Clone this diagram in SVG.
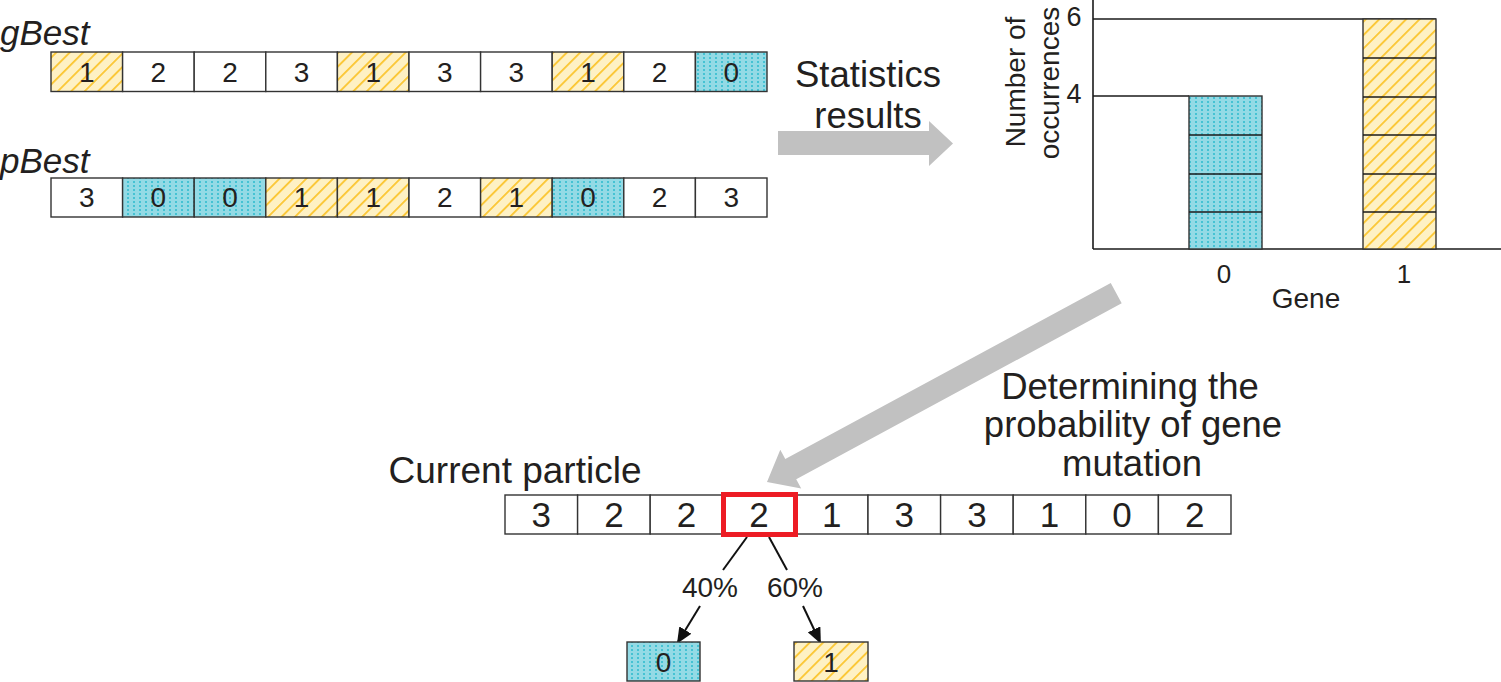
<svg xmlns="http://www.w3.org/2000/svg" width="1501" height="682" viewBox="0 0 1501 682">
<defs>
<style>
text{font-family:"Liberation Sans",Arial,Helvetica,sans-serif;fill:#231f20}
.cell{stroke:#333;stroke-width:1.4}
.w{fill:#fff}
.y{fill:url(#hatch)}
.b{fill:url(#dots)}
.d{font-size:28px;text-anchor:middle}
.dl{font-size:35px;text-anchor:middle}
.big{font-size:36.5px;text-anchor:middle}
.lbl{font-size:35px;font-style:italic}
.ax{stroke:#1a1a1a;stroke-width:1.6;fill:none}
.seg{stroke:#1a1a1a;stroke-width:1.4}
.gray{fill:#c1c1c1}
.ln{stroke:#111;stroke-width:2;fill:none}
</style>
<pattern id="dots" width="6" height="4" patternUnits="userSpaceOnUse">
<rect width="6" height="4" fill="#93dae5"/>
<rect x="1" y="1" width="2" height="2" fill="#45c2d3"/>
</pattern>
<pattern id="hatch" width="9.5" height="9.5" patternUnits="userSpaceOnUse" patternTransform="rotate(45)">
<rect width="9.5" height="9.5" fill="#fef1c4"/>
<rect x="0" y="0" width="1.8" height="9.5" fill="#fbc632"/>
</pattern>
<marker id="ah" viewBox="0 0 16 14" markerUnits="userSpaceOnUse" markerWidth="16" markerHeight="14" refX="14" refY="7" orient="auto">
<path d="M0,0 L16,7 L0,14 z" fill="#111"/>
</marker>
</defs>
<rect width="1501" height="682" fill="#fff"/>

<g id="gBest">
<text class="lbl" x="0" y="45">gBest</text>
<rect class="cell y" x="51" y="52" width="71.6" height="39.5"/>
<rect class="cell w" x="122.6" y="52" width="71.6" height="39.5"/>
<rect class="cell w" x="194.2" y="52" width="71.6" height="39.5"/>
<rect class="cell w" x="265.8" y="52" width="71.6" height="39.5"/>
<rect class="cell y" x="337.4" y="52" width="71.6" height="39.5"/>
<rect class="cell w" x="409" y="52" width="71.6" height="39.5"/>
<rect class="cell w" x="480.6" y="52" width="71.6" height="39.5"/>
<rect class="cell y" x="552.2" y="52" width="71.6" height="39.5"/>
<rect class="cell w" x="623.8" y="52" width="71.6" height="39.5"/>
<rect class="cell b" x="695.4" y="52" width="71.6" height="39.5"/>
<text class="d" x="86.8" y="82">1</text>
<text class="d" x="158.4" y="82">2</text>
<text class="d" x="230" y="82">2</text>
<text class="d" x="301.6" y="82">3</text>
<text class="d" x="373.2" y="82">1</text>
<text class="d" x="444.8" y="82">3</text>
<text class="d" x="516.4" y="82">3</text>
<text class="d" x="588" y="82">1</text>
<text class="d" x="659.6" y="82">2</text>
<text class="d" x="731.2" y="82">0</text>
</g>

<g id="pBest">
<text class="lbl" x="0" y="173">pBest</text>
<rect class="cell w" x="51" y="178" width="71.6" height="39"/>
<rect class="cell b" x="122.6" y="178" width="71.6" height="39"/>
<rect class="cell b" x="194.2" y="178" width="71.6" height="39"/>
<rect class="cell y" x="265.8" y="178" width="71.6" height="39"/>
<rect class="cell y" x="337.4" y="178" width="71.6" height="39"/>
<rect class="cell w" x="409" y="178" width="71.6" height="39"/>
<rect class="cell y" x="480.6" y="178" width="71.6" height="39"/>
<rect class="cell b" x="552.2" y="178" width="71.6" height="39"/>
<rect class="cell w" x="623.8" y="178" width="71.6" height="39"/>
<rect class="cell w" x="695.4" y="178" width="71.6" height="39"/>
<text class="d" x="86.8" y="207">3</text>
<text class="d" x="158.4" y="207">0</text>
<text class="d" x="230" y="207">0</text>
<text class="d" x="301.6" y="207">1</text>
<text class="d" x="373.2" y="207">1</text>
<text class="d" x="444.8" y="207">2</text>
<text class="d" x="516.4" y="207">1</text>
<text class="d" x="588" y="207">0</text>
<text class="d" x="659.6" y="207">2</text>
<text class="d" x="731.2" y="207">3</text>
</g>

<g id="stats-label">
<text class="big" x="868" y="87">Statistics</text>
<text class="big" x="868" y="128">results</text>
</g>

<g id="chart">
<line class="ax" x1="1093" y1="0" x2="1093" y2="249"/>
<line class="ax" x1="1093" y1="249" x2="1501" y2="249"/>
<line class="ax" x1="1093" y1="19" x2="1436" y2="19"/>
<line class="ax" x1="1093" y1="96" x2="1189" y2="96"/>
<rect class="cell b" x="1189" y="96" width="73" height="153"/>
<line class="seg" x1="1189" y1="135" x2="1262" y2="135"/>
<line class="seg" x1="1189" y1="174" x2="1262" y2="174"/>
<line class="seg" x1="1189" y1="212" x2="1262" y2="212"/>
<rect class="cell y" x="1363" y="19" width="73" height="230"/>
<line class="seg" x1="1363" y1="58" x2="1436" y2="58"/>
<line class="seg" x1="1363" y1="97" x2="1436" y2="97"/>
<line class="seg" x1="1363" y1="135" x2="1436" y2="135"/>
<line class="seg" x1="1363" y1="174" x2="1436" y2="174"/>
<line class="seg" x1="1363" y1="212" x2="1436" y2="212"/>
<text x="1074" y="26" style="font-size:27px;text-anchor:middle">6</text>
<text x="1074" y="103" style="font-size:27px;text-anchor:middle">4</text>
<text transform="translate(1025,82) rotate(-90)" style="font-size:28px;text-anchor:middle">Number of</text>
<text transform="translate(1059,83) rotate(-90)" style="font-size:28px;text-anchor:middle">occurrences</text>
<text x="1224" y="283" style="font-size:26px;text-anchor:middle">0</text>
<text x="1404" y="283" style="font-size:26px;text-anchor:middle">1</text>
<text x="1306" y="308" style="font-size:28px;text-anchor:middle">Gene</text>
</g>

<g id="connectors">
<polygon class="gray" points="778,131 929,131 929,121 953,143.5 929,166 929,155 778,155"/>
<polygon class="gray" transform="translate(767,482) rotate(151.6)" points="-397,-11.5 -27,-11.5 -27,-22 0,0 -27,22 -27,11.5 -397,11.5"/>
<line class="ln" x1="747" y1="537" x2="723" y2="570"/>
<line class="ln" x1="769" y1="537" x2="787" y2="570"/>
<line class="ln" x1="700" y1="606" x2="678" y2="642" marker-end="url(#ah)"/>
<line class="ln" x1="803" y1="606" x2="820" y2="642" marker-end="url(#ah)"/>
</g>

<g id="determine-label">
<text class="big" x="1130" y="399">Determining the</text>
<text class="big" x="1133" y="437">probability of gene</text>
<text class="big" x="1132" y="476">mutation</text>
</g>

<g id="current">
<text x="515" y="483" style="font-size:37px;text-anchor:middle">Current particle</text>
<rect class="cell w" x="505" y="495" width="72.6" height="39"/>
<rect class="cell w" x="577.6" y="495" width="72.6" height="39"/>
<rect class="cell w" x="650.2" y="495" width="72.6" height="39"/>
<rect class="cell w" x="722.8" y="495" width="72.6" height="39"/>
<rect class="cell w" x="795.4" y="495" width="72.6" height="39"/>
<rect class="cell w" x="868" y="495" width="72.6" height="39"/>
<rect class="cell w" x="940.6" y="495" width="72.6" height="39"/>
<rect class="cell w" x="1013.2" y="495" width="72.6" height="39"/>
<rect class="cell w" x="1085.8" y="495" width="72.6" height="39"/>
<rect class="cell w" x="1158.4" y="495" width="72.6" height="39"/>
<text class="dl" x="541.3" y="527">3</text>
<text class="dl" x="613.9" y="527">2</text>
<text class="dl" x="686.5" y="527">2</text>
<text class="dl" x="759.1" y="527">2</text>
<text class="dl" x="831.7" y="527">1</text>
<text class="dl" x="904.3" y="527">3</text>
<text class="dl" x="976.9" y="527">3</text>
<text class="dl" x="1049.5" y="527">1</text>
<text class="dl" x="1122.1" y="527">0</text>
<text class="dl" x="1194.7" y="527">2</text>
<rect x="723.5" y="494.5" width="72" height="40" fill="none" stroke="#ed1c24" stroke-width="5"/>
</g>

<g id="probabilities">
<text x="710" y="597" style="font-size:28px;text-anchor:middle">40%</text>
<text x="795" y="597" style="font-size:28px;text-anchor:middle">60%</text>
</g>

<g id="outcome0">
<rect class="cell b" x="627" y="642" width="73" height="39"/>
<text class="d" x="663.5" y="672">0</text>
</g>
<g id="outcome1">
<rect class="cell y" x="794" y="642" width="74" height="39"/>
<text class="d" x="831" y="672">1</text>
</g>
</svg>
